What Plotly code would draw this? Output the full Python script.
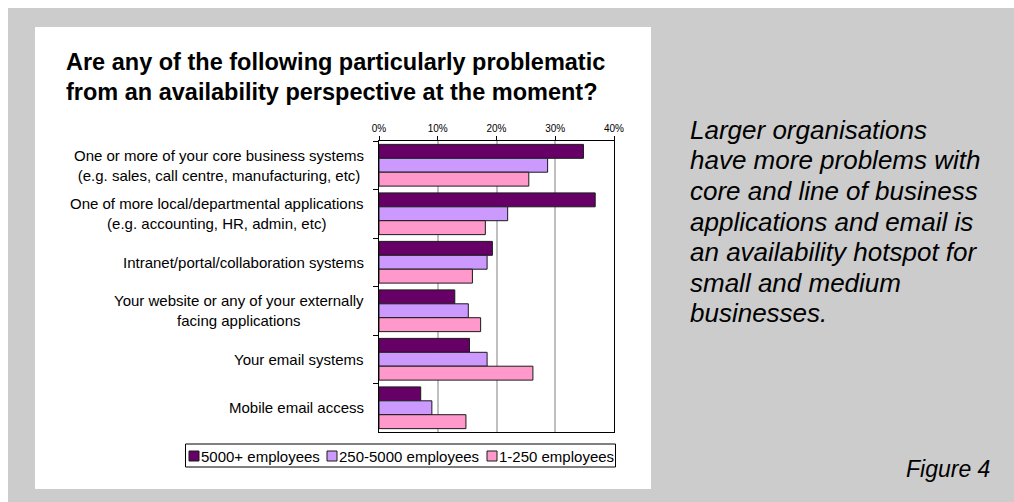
import plotly.graph_objects as go

# ---------------- data ----------------
categories = [
    "One or more of your core business systems<br>(e.g. sales, call centre, manufacturing, etc)",
    "One of more local/departmental applications<br>(e.g. accounting, HR, admin, etc)",
    "Intranet/portal/collaboration systems",
    "Your website or any of your externally<br>facing applications",
    "Your email systems",
    "Mobile email access",
]
series_names = ["5000+ employees", "250-5000 employees", "1-250 employees"]
values_5000_plus = [0.348, 0.368, 0.193, 0.129, 0.154, 0.071]
values_250_5000 = [0.287, 0.219, 0.184, 0.152, 0.184, 0.090]
values_1_250 = [0.255, 0.181, 0.159, 0.173, 0.262, 0.148]
x_tick_values = [0, 0.1, 0.2, 0.3, 0.4]
x_tick_labels = ["0%", "10%", "20%", "30%", "40%"]

title_lines = [
    "Are any of the following particularly problematic",
    "from an availability perspective at the moment?",
]
side_text_lines = [
    "Larger organisations",
    "have more problems with",
    "core and line of business",
    "applications and email is",
    "an availability hotspot for",
    "small and medium",
    "businesses.",
]
figure_label = "Figure 4"

# ---------------- styling ----------------
W, H = 1014, 502
FONT = "Liberation Sans, Arial, Helvetica, sans-serif"
colors = ["#660066", "#CC99FF", "#FF99CC"]


def px(x):
    return x / W


def py(y):
    return 1 - y / H


series_values = [values_5000_plus, values_250_5000, values_1_250]

fig = go.Figure()
for name, vals, col in zip(series_names, series_values, colors):
    fig.add_trace(go.Bar(
        y=categories, x=vals, name=name, orientation="h",
        marker=dict(color=col, line=dict(color="#1a1a1a", width=1)),
        showlegend=False,
    ))

shapes = [
    # grey frame
    dict(type="rect", xref="paper", yref="paper", x0=px(8), x1=px(1014), y0=py(502), y1=py(8),
         fillcolor="#CCCCCC", line=dict(width=0), layer="below"),
    # white panel
    dict(type="rect", xref="paper", yref="paper", x0=px(35), x1=px(651), y0=py(489), y1=py(27),
         fillcolor="#FFFFFF", line=dict(width=0), layer="below"),
    # legend box
    dict(type="rect", xref="paper", yref="paper", x0=px(185.5), x1=px(615.5), y0=py(467), y1=py(444),
         fillcolor="#FFFFFF", line=dict(color="#000000", width=1), layer="above"),
]

annotations = []
# title lines
for i, t in enumerate(title_lines):
    annotations.append(dict(
        text=t, xref="paper", yref="paper", x=px(64), y=py(62 + 30 * i),
        xanchor="left", yanchor="middle", showarrow=False,
        font=dict(family=FONT, size=23.5, color="#000000", weight="bold")))

# category labels (centered multi-line, right edge at the axis)
for c in categories:
    annotations.append(dict(
        text=c, xref="paper", yref="y", x=px(366), y=c,
        xanchor="right", yanchor="middle", align="center", showarrow=False,
        font=dict(family=FONT, size=15, color="#000000")))

# side text
for i, t in enumerate(side_text_lines):
    annotations.append(dict(
        text=t, xref="paper", yref="paper", x=px(688), y=py(130 + 30.5 * i),
        xanchor="left", yanchor="middle", showarrow=False,
        font=dict(family=FONT, size=26, color="#000000", style="italic")))

annotations.append(dict(
    text=figure_label, xref="paper", yref="paper", x=px(904), y=py(469),
    xanchor="left", yanchor="middle", showarrow=False,
    font=dict(family=FONT, size=23, color="#000000", style="italic")))

# manual legend
legend_sq_x = [189, 327, 487]
legend_txt_x = [199, 337, 497]
for name, col, sx, tx in zip(series_names, colors, legend_sq_x, legend_txt_x):
    shapes.append(dict(type="rect", xref="paper", yref="paper", x0=px(sx), x1=px(sx + 10),
                       y0=py(461), y1=py(451), fillcolor=col,
                       line=dict(color="#1a1a1a", width=1), layer="above"))
    annotations.append(dict(
        text=name, xref="paper", yref="paper", x=px(tx), y=py(456),
        xanchor="left", yanchor="middle", showarrow=False,
        font=dict(family=FONT, size=15, color="#000000")))

fig.update_layout(
    width=W, height=H,
    margin=dict(l=0, r=0, t=0, b=0, pad=0, autoexpand=False),
    paper_bgcolor="#FFFFFF",
    plot_bgcolor="rgba(0,0,0,0)",
    barmode="group", bargap=0.14, bargroupgap=0,
    font=dict(family=FONT, color="#000000"),
    shapes=shapes,
    annotations=annotations,
    xaxis=dict(
        domain=[px(379), px(614)], side="top", range=[0, 0.4],
        tickvals=x_tick_values, ticktext=x_tick_labels,
        showgrid=True, gridcolor="#BFBFBF", gridwidth=2,
        showline=True, linecolor="#000000", linewidth=1, mirror=True,
        ticks="outside", ticklen=4, tickcolor="#000000",
        tickfont=dict(size=10, family=FONT), zeroline=False, automargin=False,
    ),
    yaxis=dict(
        domain=[py(432), py(141)], autorange="reversed",
        showticklabels=False, ticks="outside", tickson="boundaries",
        ticklen=5, tickcolor="#000000",
        showline=True, linecolor="#000000", linewidth=1, mirror=True,
        showgrid=False, zeroline=False, automargin=False,
    ),
)

fig.write_html("out.html")
